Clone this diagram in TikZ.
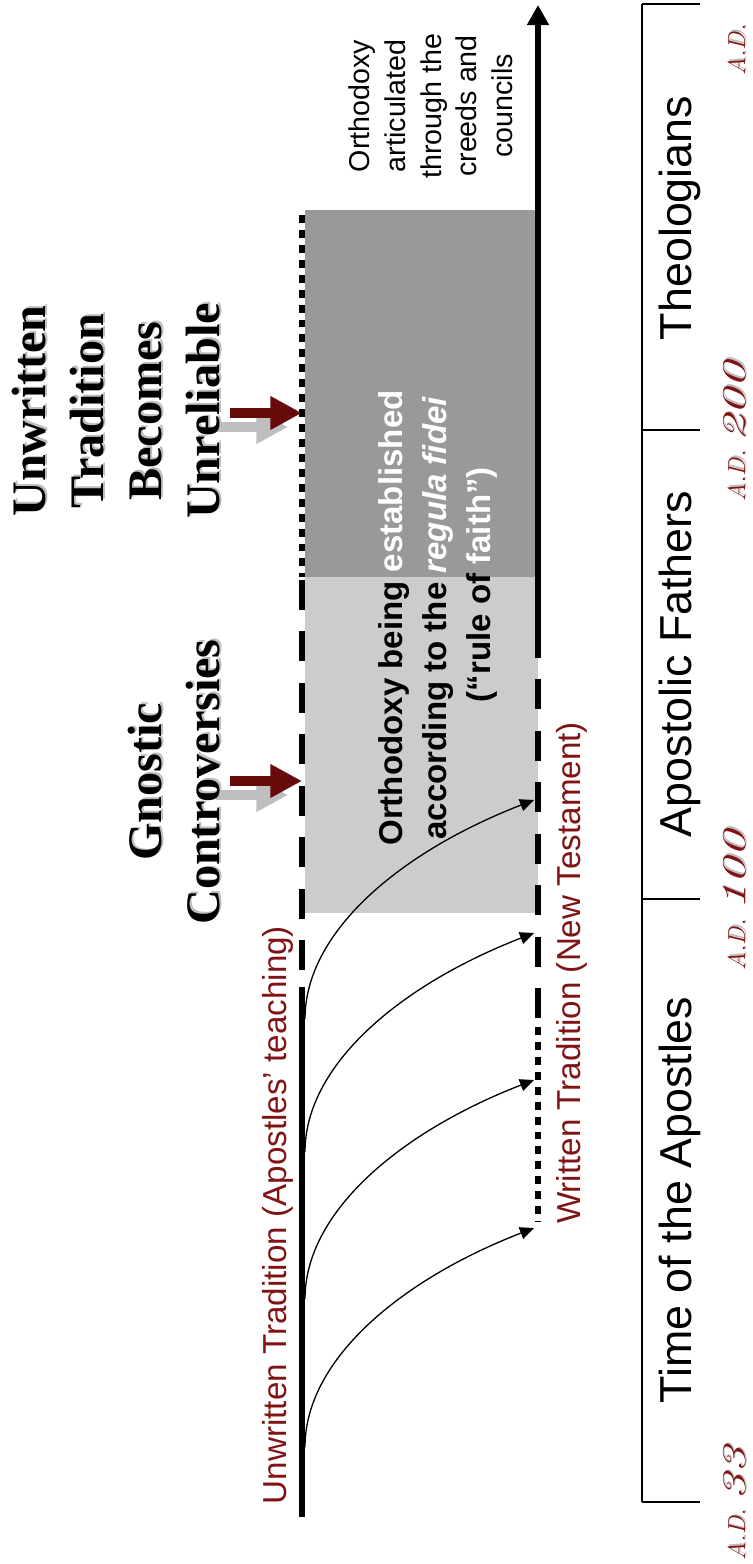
\documentclass[tikz,border=0pt]{standalone}
\usepackage{fontspec}
\setsansfont{Liberation Sans}
\newfontfamily\tnr{Liberation Serif}
\usepackage{graphicx}
\usetikzlibrary{arrows.meta}
\definecolor{maroon}{RGB}{128,20,20}
\definecolor{arrred}{RGB}{102,10,10}
\definecolor{darkbox}{RGB}{153,153,153}
\definecolor{lightbox}{RGB}{204,204,204}
\definecolor{shadowgray}{RGB}{190,190,190}
\tikzset{
  every node/.style={inner sep=0pt, outer sep=0pt},
  vtext/.style={rotate=90, align=center},
  titletext/.style={vtext, font=\tnr\bfseries\fontsize{27.4}{33}\selectfont},
  redlabel/.style={rotate=90, anchor=base, text=maroon, font=\sffamily\fontsize{18.9}{23}\selectfont},
  eralabel/.style={rotate=90, anchor=base, font=\sffamily\fontsize{25.5}{30}\selectfont},
  adlabel/.style={rotate=90, anchor=base, font=\itshape},
  tline/.style={line width=3.7pt},
  dashline/.style={tline, dash pattern=on 17pt off 12.3pt},
  dotline/.style={tline, dash pattern=on 4.5pt off 4pt},
  branch/.style={line width=0.75pt, -{Triangle[length=8pt,width=7pt]}},
  bigarrow/.style={line width=6.2pt, -{Triangle[length=18pt,width=18pt]}},
  timeline/.style={line width=0.9pt},
}
\newcommand{\adtext}[1]{{\fontsize{14}{14}\selectfont A.D.}\hspace{5pt}\scalebox{1.6}[1]{\fontsize{19}{19}\selectfont #1}}
\begin{document}
\begin{tikzpicture}[x=0.02cm, y=-0.02cm]
\useasboundingbox (0,0) rectangle (752,1564);
\clip (0,0) rectangle (752,1564);

% shaded periods
\fill[darkbox] (305,210) rectangle (538,577);
\fill[lightbox] (305,577) rectangle (538,913);

% coordinates of the two traditions
\coordinate (Ltop) at (302,215);
\coordinate (Ldash) at (302,577);
\coordinate (Ldash2) at (302,580);
\coordinate (Lsolid) at (302,987);
\coordinate (Lbot) at (302,1517);
\coordinate (Rtip) at (538,5);
\coordinate (Rdash) at (538,655);
\coordinate (Rdash2) at (538,1018);
\coordinate (Rdot) at (538,1027);
\coordinate (Rbot) at (538,1222);

% branch curves
\foreach \e [count=\i] in {1228,1080,933,800} {
  \coordinate (s\i) at (305,\e+219);
  \coordinate (e\i) at (534,\e);
  \draw[branch] (s\i) .. controls +(0,-87) and +(-134,52) .. (e\i);
}

% left line (unwritten)
\draw[dotline] (Ltop) -- (Ldash);
\draw[dashline] (Ldash2) -- (Lsolid);
\draw[tline] (Lsolid) -- (Lbot);
% right line (written)
\draw[tline, -{Triangle[length=11.5pt,width=12pt]}] (Rdash) -- (Rtip);
\draw[dashline] (Rdash2) -- (Rdash);
\draw[dotline] (Rdot) -- (Rbot);

% event arrows
\coordinate (a1tail) at (230,413); \coordinate (a1tip) at (302,413);
\coordinate (a1stail) at (216,427); \coordinate (a1stip) at (288,427);
\coordinate (a2tail) at (230,781); \coordinate (a2tip) at (302,781);
\coordinate (a2stail) at (216,795); \coordinate (a2stip) at (288,795);
\draw[bigarrow, shadowgray] (a1stail) -- (a1stip);
\draw[bigarrow, arrred] (a1tail) -- (a1tip);
\draw[bigarrow, shadowgray] (a2stail) -- (a2stip);
\draw[bigarrow, arrred] (a2tail) -- (a2tip);

% titles
\node[titletext, text=shadowgray, xshift=1pt, yshift=-1pt] (t1s) at (116,411) {Unwritten\\Tradition\\Becomes\\Unreliable};
\node[titletext] (t1) at (116,411) {Unwritten\\Tradition\\Becomes\\Unreliable};
\node[titletext, text=shadowgray, xshift=1pt, yshift=-1pt] (t2s) at (174.5,782) {Gnostic\\Controversies};
\node[titletext] (t2) at (174.5,782) {Gnostic\\Controversies};

% red tradition labels
\node[redlabel] (unw) at (286.5,1215) {Unwritten Tradition (Apostles’ teaching)};
\node[redlabel] (wri) at (580.5,973) {Written Tradition (New Testament)};

% central text
\node[vtext, font=\sffamily\bfseries\fontsize{18.8}{25.2}\selectfont] (orth) at (438,618)
  {Orthodoxy being \textcolor{white}{established}\\
   according to the \textcolor{white}{\textit{regula fidei}}\\
   \hspace*{38pt}(“rule of \textcolor{white}{faith”)}};

% creeds text
\node[vtext, font=\sffamily\fontsize{16.3}{20.3}\selectfont] (creed) at (431,106)
  {Orthodoxy\\articulated\\through the\\creeds and\\councils};

% time axis
\coordinate (T0) at (642,4);   \coordinate (T0e) at (700,4);
\coordinate (T1) at (642,430); \coordinate (T1e) at (700,430);
\coordinate (T2) at (642,899); \coordinate (T2e) at (700,899);
\coordinate (T3) at (642,1502);\coordinate (T3e) at (700,1502);
\draw[timeline] (T0) -- (T3);
\draw[timeline] (T0) -- (T0e);
\draw[timeline] (T1) -- (T1e);
\draw[timeline] (T2) -- (T2e);
\draw[timeline] (T3) -- (T3e);

\node[eralabel] (era3) at (691,218) {Theologians};
\node[eralabel] (era2) at (691,664) {Apostolic Fathers};
\node[eralabel] (era1) at (691,1200) {Time of the Apostles};

% dates
\foreach \yy/\dd/\nm in {1503.5/33/d1, 900.5/100/d2, 431.5/200/d3} {
  \node[adlabel, text=shadowgray, xshift=0.8pt, yshift=-0.8pt] (\nm s) at (745,\yy) {\adtext{\dd}};
  \node[adlabel, text=maroon] (\nm) at (745,\yy) {\adtext{\dd}};
}
\node[adlabel, text=shadowgray, xshift=0.8pt, yshift=-0.8pt, font=\itshape\fontsize{14}{14}\selectfont] (d4s) at (745,50) {A.D.};
\node[adlabel, text=maroon, font=\itshape\fontsize{14}{14}\selectfont] (d4) at (745,50) {A.D.};
\end{tikzpicture}
\end{document}
